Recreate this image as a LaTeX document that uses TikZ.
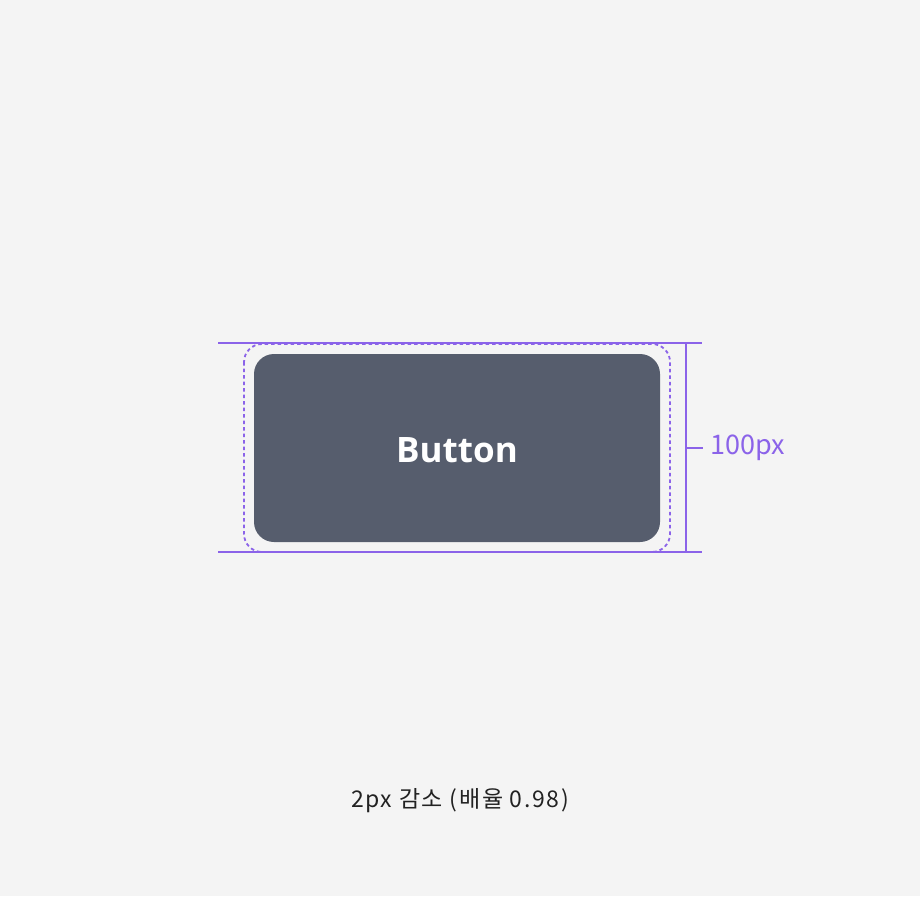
\documentclass[tikz,border=0pt]{standalone}
\usepackage{fontspec}
\setmainfont{Open Sans}
\newfontfamily\krfont{Noto Sans CJK KR}
\newfontfamily\krwide{Noto Sans CJK KR}[LetterSpace=7]
\usetikzlibrary{positioning}
\definecolor{bg}{HTML}{F4F4F4}
\definecolor{btn}{HTML}{565D6D}
\definecolor{guide}{HTML}{8B63E9}
\definecolor{txt}{HTML}{222222}
\tikzset{
  guideline/.style={draw=guide, line width=2pt},
  dashbox/.style={draw=guide, line width=1.8pt, dash pattern=on 3.5pt off 3pt, rounded corners=18pt},
}
\begin{document}
\begin{tikzpicture}[x=1pt,y=-1pt]
\fill[bg] (0,0) rectangle (920,896);
\useasboundingbox (0,0) rectangle (920,896);
% button
\fill[btn, rounded corners=20pt] (254,354) rectangle (660,542);
\node[text=white, font=\bfseries\fontsize{35}{42}\selectfont] (lbl) at (457,450) {Button};
% dashed outline
\draw[dashbox] (244,344) rectangle (670,552);
% guides
\coordinate (tl) at (218,343);
\coordinate (tr) at (702,343);
\coordinate (bl) at (218,552);
\coordinate (br) at (702,552);
\coordinate (vt) at (686,343);
\coordinate (vb) at (686,552);
\coordinate (tk1) at (686,448);
\coordinate (tk2) at (703,448);
\draw[guideline] (tl) -- (tr);
\draw[guideline] (bl) -- (br);
\draw[guideline] (vt) -- (vb);
\draw[guideline] (tk1) -- (tk2);
\node[text=guide, anchor=west, inner sep=0pt, font=\krfont\fontsize{27}{32}\selectfont] (dim) at (710,448) {100px};
\node[text=txt, font=\krwide\fontsize{23}{28}\selectfont] (cap) at (460,801) {2px 감소 (배율 0.98)};
\end{tikzpicture}
\end{document}
